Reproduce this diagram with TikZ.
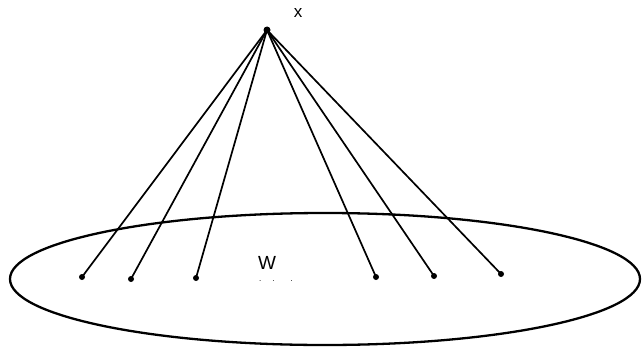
\documentclass[tikz,border=0pt]{standalone}
\usepackage{fontspec}
\setmainfont{Liberation Sans}
\usetikzlibrary{shapes.geometric}
\begin{document}
\begin{tikzpicture}[
  x=1pt, y=-1pt,
  dot/.style={circle, fill=black, inner sep=0pt, minimum size=6pt},
  apexdot/.style={circle, fill=black, inner sep=0pt, minimum size=7pt},
  ray/.style={line width=1.7pt},
  label/.style={font=\fontsize{19}{21}\selectfont, inner sep=0pt}
]
\useasboundingbox (0,0) rectangle (644,350);
\fill[white] (0,0) rectangle (644,350);

% the set W
\node[draw, ellipse, line width=2.3pt, minimum width=630pt, minimum height=132pt, inner sep=0pt] (set) at (325,279) {};
\node[label] (wlabel) at (267,263) {W};
\node[font=\fontsize{8}{8}\selectfont, inner sep=0pt] (wdots) at (276,281) {.\hspace{11pt}.\hspace{16pt}.};

% the point x
\node[apexdot] (apex) at (267,30) {};
\node[label, font=\fontsize{17}{19}\selectfont] (xlabel) at (298,13) {x};

% points of W joined to x
\foreach \name/\px/\py in {w1/82/277, w2/131/279, w3/196/278, w4/376/277, w5/434/276, w6/501/274}{
  \node[dot] (\name) at (\px,\py) {};
  \draw[ray] (apex.center) -- (\name.center);
}
\end{tikzpicture}
\end{document}
